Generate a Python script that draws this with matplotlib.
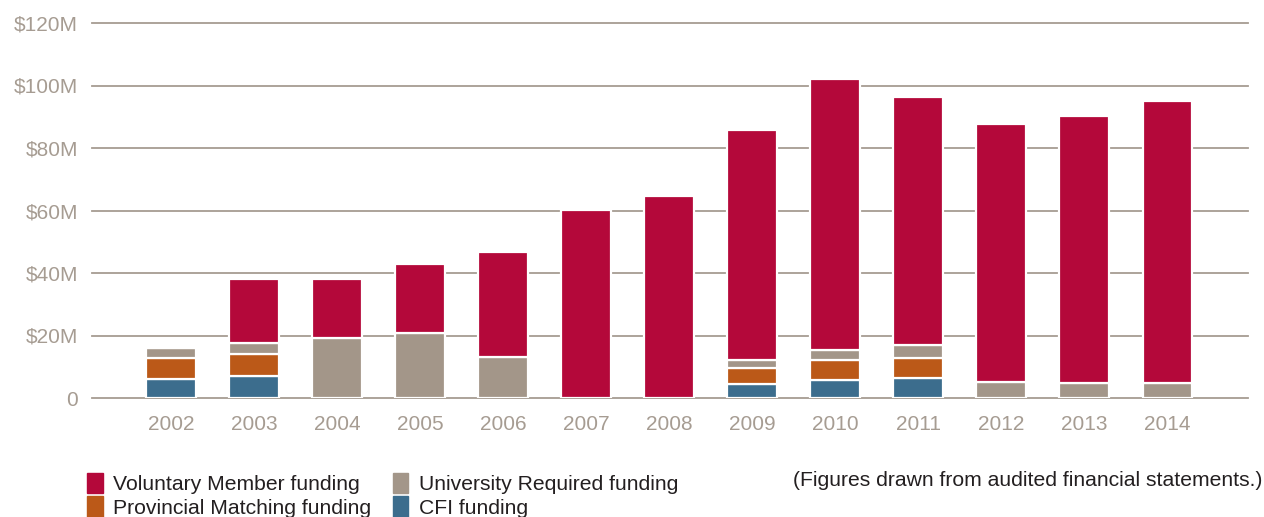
import numpy as np
import matplotlib
matplotlib.use("Agg")
import matplotlib.pyplot as plt
from matplotlib.patches import Patch

plt.rcParams['font.family'] = ['Liberation Sans', 'DejaVu Sans']

# values in $M
years = ['2002', '2003', '2004', '2005', '2006', '2007', '2008',
         '2009', '2010', '2011', '2012', '2013', '2014']
cfi = [6.1, 7.0, 0, 0, 0, 0, 0, 4.6, 5.9, 6.3, 0, 0, 0]
provincial = [6.6, 7.0, 0, 0, 0, 0, 0, 5.0, 6.3, 6.6, 0, 0, 0]
university = [3.3, 3.5, 19.3, 20.8, 13.0, 0, 0, 2.6, 3.2, 4.1, 5.2, 4.9, 4.9]
voluntary = [0, 20.6, 18.8, 22.1, 33.7, 60.2, 64.6, 73.6, 86.7, 79.3, 82.5, 85.3, 90.1]

y_ticks = [0, 20, 40, 60, 80, 100, 120]
y_labels = ['0', '$20M', '$40M', '$60M', '$80M', '$100M', '$120M']

RED = '#b4083a'
GREY = '#a39689'
ORANGE = '#bb5918'
BLUE = '#3c6d8d'
AXIS = '#a69c92'

fig = plt.figure(figsize=(12.64, 5.17), dpi=100)
ax = fig.add_axes([92 / 1264, 1 - 398 / 517, (1248 - 92) / 1264, 375 / 517])

x = np.arange(len(years))
w = 0.6
series = [(cfi, BLUE), (provincial, ORANGE), (university, GREY), (voluntary, RED)]
bottom = np.zeros(len(years))
for vals, col in series:
    vals = np.array(vals, dtype=float)
    ax.bar(x, vals, w, bottom=bottom, color=col, edgecolor='white',
           linewidth=1.6, zorder=3)
    bottom += vals

for t in y_ticks:
    ax.axhline(t, color=AXIS, linewidth=1.3, zorder=1, clip_on=False)

ax.set_xlim(-0.95, len(years) - 1 + 0.97)
ax.set_ylim(0, 120)
ax.set_xticks(x)
ax.set_xticklabels(years)
ax.set_yticks(y_ticks)
ax.set_yticklabels(y_labels)
ax.tick_params(length=0, labelsize=15, colors=AXIS)
ax.tick_params(axis='y', pad=10)
ax.tick_params(axis='x', pad=12)
for s in ax.spines.values():
    s.set_visible(False)

handles = [Patch(color=RED), Patch(color=ORANGE), Patch(color=GREY), Patch(color=BLUE)]
labels = ['Voluntary Member funding', 'Provincial Matching funding',
          'University Required funding', 'CFI funding']
fig.legend(handles, labels, ncol=2, loc='upper left',
           bbox_to_anchor=(87 / 1264, 1 - 473 / 517), frameon=False,
           fontsize=15.2, handlelength=0.75, handleheight=1.1, handletextpad=0.5,
           columnspacing=1.0, labelspacing=0.1, borderpad=0, borderaxespad=0,
           labelcolor='#231f20')

fig.text(1262 / 1264, 1 - 481 / 517, '(Figures drawn from audited financial statements.)',
         ha='right', va='center', fontsize=15.2, color='#231f20')

fig.savefig('out.png', dpi=100)
